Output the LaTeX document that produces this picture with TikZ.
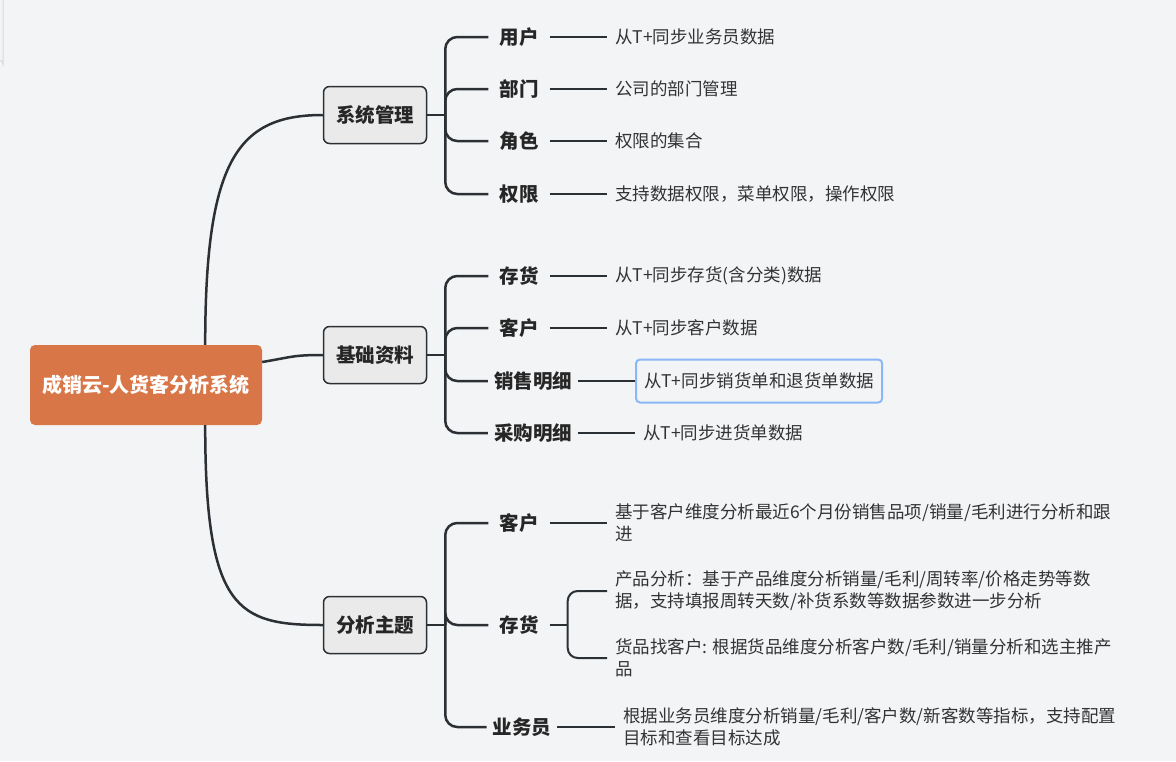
\documentclass[tikz,border=0pt]{standalone}
\usepackage{fontspec}
\setmainfont{Noto Sans CJK SC}
\usetikzlibrary{positioning}
\definecolor{bgcol}{HTML}{F3F4F6}
\definecolor{rootcol}{HTML}{D97647}
\definecolor{linecol}{HTML}{2B3035}
\definecolor{boxcol}{HTML}{EAEAEA}
\definecolor{selcol}{HTML}{8AB8F7}
\definecolor{txtcol}{HTML}{333333}

\begin{document}
\begin{tikzpicture}[x=1pt,y=-1pt,
  root/.style={fill=rootcol,rounded corners=5pt,minimum width=232pt,minimum height=80pt,
    text=white,font=\fontsize{20}{24}\selectfont\bfseries},
  topic/.style={draw=linecol,line width=1.5pt,fill=boxcol,rounded corners=6pt,
    minimum width=103pt,minimum height=57pt,text=black!85,font=\fontsize{19.5}{24}\selectfont\bfseries},
  sub/.style={inner xsep=11pt,inner ysep=2pt,text=black!85,font=\fontsize{19.5}{24}\selectfont\bfseries},
  leaf/.style={anchor=west,inner xsep=8pt,align=left,text=txtcol,font=\fontsize{17.5}{22}\selectfont},
  curve/.style={draw=linecol,line width=2.5pt},
  branch/.style={draw=linecol,line width=2.5pt,rounded corners=12pt},
  twig/.style={draw=linecol,line width=2pt}]
\useasboundingbox[fill=bgcol] (0,0) rectangle (1176,761);
\draw[black!15,line width=1pt] (3,0) -- (3,64) arc[start angle=0,end angle=-90,radius=4];

% root and topics
\node[root] (root) at (146,385) {成销云-人货客分析系统};
\node[topic] (sys) at (375,115) {系统管理};
\node[topic] (base) at (375,355) {基础资料};
\node[topic] (ana) at (375,625) {分析主题};

\draw[curve] ([xshift=-57pt]root.north east) .. controls +(0,-185) and +(-85,0) .. (sys.west);
\draw[curve] ([yshift=23pt]root.east) .. controls +(30,-5) and +(-30,0) .. (base.west);
\draw[curve] ([xshift=-57pt]root.south east) .. controls +(0,185) and +(-85,0) .. (ana.west);

% 系统管理
\node[sub] (s11) at (519,37) {用户};
\node[sub] (s12) at (519,89) {部门};
\node[sub] (s13) at (519,141) {角色};
\node[sub] (s14) at (519,194) {权限};
\node[leaf] (l11) at (607,37) {从T+同步业务员数据};
\node[leaf] (l12) at (607,89) {公司的部门管理};
\node[leaf] (l13) at (607,141) {权限的集合};
\node[leaf] (l14) at (607,194) {支持数据权限，菜单权限，操作权限};

% 基础资料
\node[sub] (s21) at (519,276) {存货};
\node[sub] (s22) at (519,328) {客户};
\node[sub,inner xsep=6pt] (s23) at (533,381) {销售明细};
\node[sub,inner xsep=6pt] (s24) at (533,433) {采购明细};
\node[leaf] (l21) at (607,276) {从T+同步存货(含分类)数据};
\node[leaf] (l22) at (607,328) {从T+同步客户数据};
\node[leaf,draw=selcol,line width=2pt,rounded corners=4pt,minimum height=43pt] (l23) at (635,381) {从T+同步销货单和退货单数据};
\node[leaf] (l24) at (635,433) {从T+同步进货单数据};

% 分析主题
\node[sub] (s31) at (519,523) {客户};
\node[sub] (s32) at (519,625) {存货};
\node[sub,inner xsep=6pt] (s33) at (522,727) {业务员};
\node[leaf] (l31) at (607,523) {基于客户维度分析最近6个月份销售品项/销量/毛利进行分析和跟\\进};
\node[leaf] (l32) at (607,591) {产品分析：基于产品维度分析销量/毛利/周转率/价格走势等数\\据，支持填报周转天数/补货系数等数据参数进一步分析};
\node[leaf] (l33) at (607,658) {货品找客户: 根据货品维度分析客户数/毛利/销量分析和选主推产\\品};
\node[leaf] (l34) at (615,727) {根据业务员维度分析销量/毛利/客户数/新客数等指标，支持配置\\目标和查看目标达成};

% brackets
\draw[branch] (sys.east) -- ++(18,0) coordinate (j1);
\draw[branch] (base.east) -- ++(18,0) coordinate (j2);
\draw[branch] (ana.east) -- ++(18,0) coordinate (j3);
\foreach \c in {s11,s12,s13,s14} \draw[branch] (j1) |- (\c.west);
\foreach \c in {s21,s22,s23,s24} \draw[branch] (j2) |- (\c.west);
\foreach \c in {s31,s32,s33} \draw[branch] (j3) |- (\c.west);
\draw[twig] (s32.east) -- ++(18,0) coordinate (j4);
\foreach \c in {l32,l33} \draw[twig,rounded corners=10pt] (j4) |- (\c.west);

% leaf lines
\foreach \s/\l in {s11/l11,s12/l12,s13/l13,s14/l14,s21/l21,s22/l22,s23/l23,s24/l24,s31/l31,s33/l34}
  \draw[twig] (\s.east) -- (\l.west);
\end{tikzpicture}
\end{document}
